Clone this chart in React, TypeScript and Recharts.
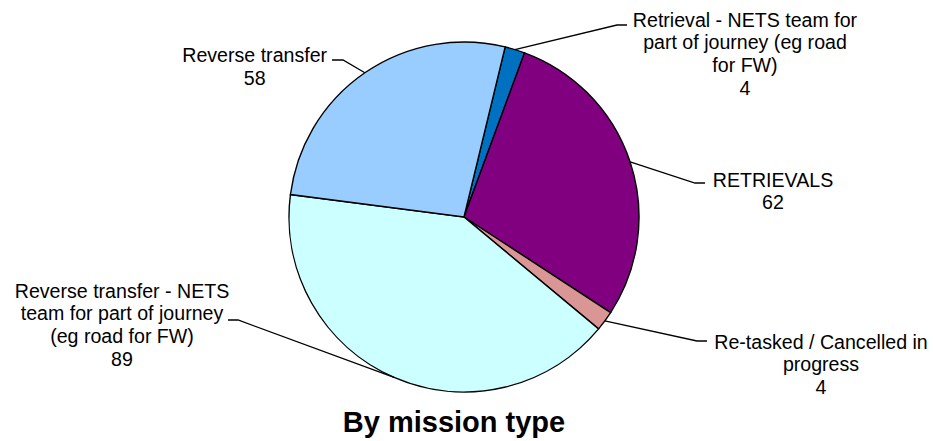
import React from "react";
import { PieChart, Pie, Cell } from "recharts";

const categories = [
  "Retrieval - NETS team for\npart of journey (eg road\nfor FW)",
  "RETRIEVALS",
  "Re-tasked / Cancelled in\nprogress",
  "Reverse transfer - NETS\nteam for part of journey\n(eg road for FW)",
  "Reverse transfer",
];
const values = [4, 62, 4, 89, 58];
const colors = ["#0070C0", "#800080", "#D99694", "#CCFFFF", "#99CCFF"];
const title = "By mission type";

const data = categories.map((name, i) => ({ name, value: values[i] }));

// label layout: offsets relative to pie centre (elbow point, stub end, text centre x, first baseline)
const LABEL_LAYOUT = [
  { ex: 153, ey: -192, sx: 163, tx: 281, ty: -190.3 },
  { ex: 231, ey: -34, sx: 241, tx: 309, ty: -30.3 },
  { ex: 233, ey: 124, sx: 243, tx: 357, ty: 131.5 },
  { ex: -226, ey: 103, sx: -236, tx: -342, ty: 80.7 },
  { ex: -121, ey: -157, sx: -132, tx: -209.3, ty: -155 },
];

const FONT = "'Liberation Sans', Arial, sans-serif";
const FONT_SIZE = 19.6;
const LINE_H = 22.7;
const RAD = Math.PI / 180;

const renderLabel = (props: any) => {
  const { cx, cy, midAngle, outerRadius, index, name, value } = props;
  const L = LABEL_LAYOUT[index];
  const px = cx + Math.cos(-midAngle * RAD) * outerRadius;
  const py = cy + Math.sin(-midAngle * RAD) * outerRadius;
  const lines = String(name).split("\n").concat(String(value));
  return (
    <g key={`lbl-${index}`}>
      <polyline
        points={`${px},${py} ${cx + L.ex},${cy + L.ey} ${cx + L.sx},${cy + L.ey}`}
        fill="none"
        stroke="#000"
        strokeWidth={1.3}
      />
      <text
        x={cx + L.tx}
        y={cy + L.ty}
        textAnchor="middle"
        fontFamily={FONT}
        fontSize={FONT_SIZE}
        fill="#000"
      >
        {lines.map((ln, k) => (
          <tspan key={k} x={cx + L.tx} y={cy + L.ty + k * LINE_H}>
            {ln}
          </tspan>
        ))}
      </text>
    </g>
  );
};

export default function App() {
  return (
    <div style={{ position: "absolute", left: 0, top: 0, width: 933, height: 441, background: "#fff" }}>
      <PieChart width={933} height={441} margin={{ top: 0, right: 0, bottom: 0, left: 0 }}>
        <Pie
          data={data}
          dataKey="value"
          nameKey="name"
          cx={464}
          cy={217}
          outerRadius={175}
          startAngle={76.4}
          endAngle={-283.6}
          stroke="#000"
          strokeWidth={1.4}
          label={renderLabel}
          labelLine={false}
          isAnimationActive={false}
        >
          {data.map((d, i) => (
            <Cell key={d.name} fill={colors[i]} />
          ))}
        </Pie>
      </PieChart>
      <svg
        width={933}
        height={441}
        style={{ position: "absolute", left: 0, top: 0, pointerEvents: "none" }}
      >
        <text
          x={454}
          y={431.5}
          textAnchor="middle"
          fontFamily={FONT}
          fontWeight="bold"
          fontSize={29}
          fill="#000"
        >
          {title}
        </text>
      </svg>
    </div>
  );
}
